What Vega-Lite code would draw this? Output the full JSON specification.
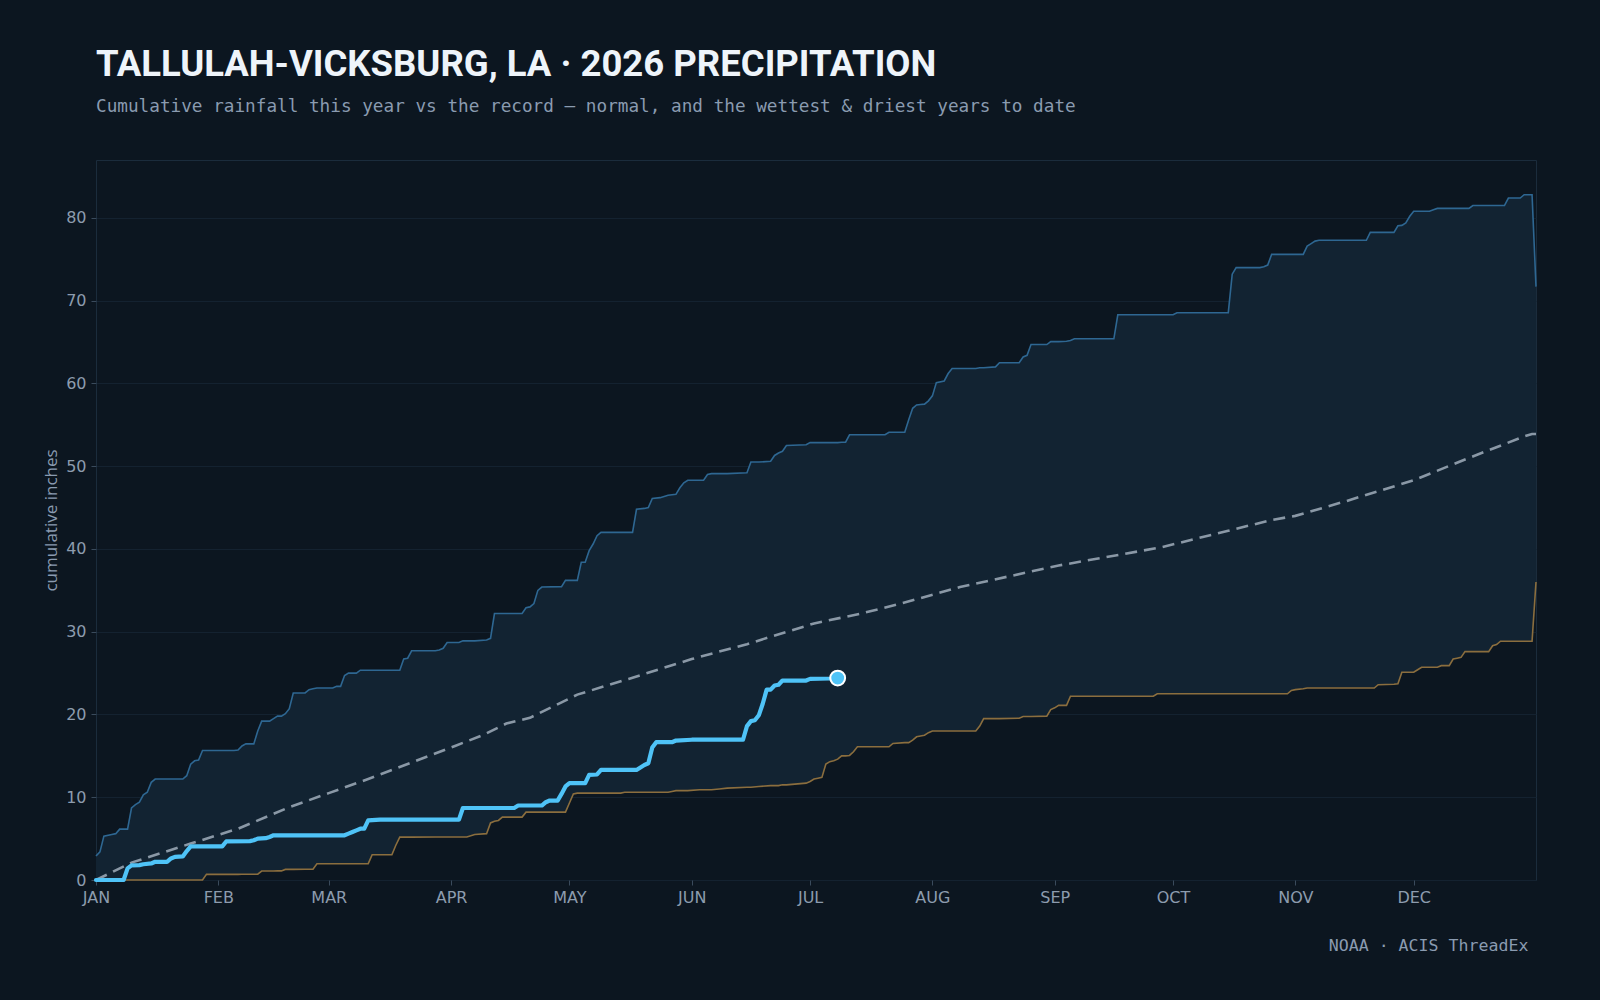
{
  "$schema": "https://vega.github.io/schema/vega-lite/v6.json",
  "width": 1440,
  "height": 720,
  "autosize": {"type": "none"},
  "padding": {"left": 96, "top": 160, "right": 64, "bottom": 120},
  "background": "#0c1620",
  "config": {
    "view": {"stroke": "#1b2c3c", "strokeWidth": 1, "fill": "#0c1620"},
    "axis": {
      "labelColor": "#8d9cae",
      "labelFont": "DejaVu Sans",
      "labelFontSize": 16,
      "tickColor": "#3a4b5c",
      "tickSize": 5,
      "domain": false
    }
  },
  "title": {
    "text": "TALLULAH-VICKSBURG, LA · 2026 PRECIPITATION",
    "subtitle": "Cumulative rainfall this year vs the record — normal, and the wettest & driest years to date",
    "anchor": "start",
    "frame": "group",
    "font": "Roboto",
    "fontSize": 36.5,
    "fontWeight": "bold",
    "color": "#eef4fa",
    "subtitleFont": "DejaVu Sans Mono",
    "subtitleFontSize": 17.7,
    "subtitleColor": "#8a9bb0",
    "subtitlePadding": 15,
    "offset": 44
  },
  "datasets": {
    "band": [
      {"doy":1,"wet":2.9,"dry":0},{"doy":2,"wet":3.4,"dry":0},{"doy":3,"wet":5.3,"dry":0},{"doy":5,"wet":5.5,"dry":0},{"doy":6,"wet":5.6,"dry":0},{"doy":7,"wet":6.15,"dry":0},{"doy":9,"wet":6.15,"dry":0},{"doy":10,"wet":8.7,"dry":0},{"doy":11,"wet":9.1,"dry":0},{"doy":12,"wet":9.4,"dry":0},{"doy":13,"wet":10.3,"dry":0},{"doy":14,"wet":10.6,"dry":0},{"doy":15,"wet":11.8,"dry":0},{"doy":16,"wet":12.2,"dry":0},{"doy":23,"wet":12.2,"dry":0},{"doy":24,"wet":12.6,"dry":0},{"doy":25,"wet":14.0,"dry":0},{"doy":26,"wet":14.4,"dry":0},{"doy":27,"wet":14.5,"dry":0},{"doy":28,"wet":15.65,"dry":0},{"doy":29,"wet":15.65,"dry":0.68},{"doy":36,"wet":15.65,"dry":0.68},{"doy":37,"wet":15.7,"dry":0.68},{"doy":38,"wet":16.2,"dry":0.69},{"doy":39,"wet":16.45,"dry":0.69},{"doy":41,"wet":16.45,"dry":0.7},{"doy":42,"wet":18.0,"dry":0.7},{"doy":43,"wet":19.2,"dry":1.08},{"doy":45,"wet":19.2,"dry":1.09},{"doy":46,"wet":19.5,"dry":1.09},{"doy":47,"wet":19.8,"dry":1.1},{"doy":48,"wet":19.8,"dry":1.1},{"doy":49,"wet":20.1,"dry":1.28},{"doy":50,"wet":20.7,"dry":1.28},{"doy":51,"wet":22.6,"dry":1.28},{"doy":54,"wet":22.6,"dry":1.29},{"doy":55,"wet":23.0,"dry":1.29},{"doy":56,"wet":23.1,"dry":1.3},{"doy":57,"wet":23.2,"dry":1.97},{"doy":61,"wet":23.2,"dry":1.97},{"doy":62,"wet":23.4,"dry":1.97},{"doy":63,"wet":23.4,"dry":1.97},{"doy":64,"wet":24.7,"dry":1.97},{"doy":65,"wet":25.0,"dry":1.97},{"doy":67,"wet":25.0,"dry":1.97},{"doy":68,"wet":25.35,"dry":1.97},{"doy":70,"wet":25.35,"dry":1.97},{"doy":71,"wet":25.35,"dry":3.05},{"doy":76,"wet":25.35,"dry":3.05},{"doy":77,"wet":25.35,"dry":4.2},{"doy":78,"wet":25.35,"dry":5.18},{"doy":79,"wet":26.7,"dry":5.18},{"doy":80,"wet":26.8,"dry":5.18},{"doy":81,"wet":27.7,"dry":5.18},{"doy":87,"wet":27.7,"dry":5.19},{"doy":88,"wet":27.8,"dry":5.19},{"doy":89,"wet":28.0,"dry":5.19},{"doy":90,"wet":28.7,"dry":5.19},{"doy":93,"wet":28.7,"dry":5.2},{"doy":94,"wet":28.9,"dry":5.2},{"doy":95,"wet":28.9,"dry":5.2},{"doy":97,"wet":28.9,"dry":5.5},{"doy":100,"wet":29.0,"dry":5.6},{"doy":101,"wet":29.2,"dry":6.9},{"doy":102,"wet":32.2,"dry":7.1},{"doy":103,"wet":32.2,"dry":7.2},{"doy":104,"wet":32.2,"dry":7.6},{"doy":109,"wet":32.2,"dry":7.6},{"doy":110,"wet":32.9,"dry":8.2},{"doy":111,"wet":33.0,"dry":8.2},{"doy":112,"wet":33.4,"dry":8.2},{"doy":113,"wet":35.0,"dry":8.2},{"doy":114,"wet":35.4,"dry":8.2},{"doy":119,"wet":35.45,"dry":8.2},{"doy":120,"wet":36.2,"dry":8.2},{"doy":121,"wet":36.2,"dry":9.3},{"doy":122,"wet":36.2,"dry":10.4},{"doy":123,"wet":36.2,"dry":10.5},{"doy":124,"wet":38.4,"dry":10.5},{"doy":125,"wet":38.4,"dry":10.5},{"doy":126,"wet":39.8,"dry":10.5},{"doy":127,"wet":40.6,"dry":10.5},{"doy":128,"wet":41.6,"dry":10.5},{"doy":129,"wet":42.0,"dry":10.5},{"doy":134,"wet":42.0,"dry":10.5},{"doy":135,"wet":42.0,"dry":10.6},{"doy":137,"wet":42.0,"dry":10.6},{"doy":138,"wet":44.8,"dry":10.6},{"doy":140,"wet":44.9,"dry":10.6},{"doy":141,"wet":45.0,"dry":10.6},{"doy":142,"wet":46.1,"dry":10.6},{"doy":144,"wet":46.2,"dry":10.6},{"doy":146,"wet":46.5,"dry":10.6},{"doy":147,"wet":46.55,"dry":10.7},{"doy":148,"wet":46.6,"dry":10.8},{"doy":149,"wet":47.4,"dry":10.8},{"doy":150,"wet":48.0,"dry":10.8},{"doy":151,"wet":48.3,"dry":10.8},{"doy":154,"wet":48.3,"dry":10.9},{"doy":155,"wet":48.3,"dry":10.9},{"doy":156,"wet":49.0,"dry":10.9},{"doy":157,"wet":49.1,"dry":10.9},{"doy":159,"wet":49.1,"dry":11.0},{"doy":161,"wet":49.1,"dry":11.1},{"doy":166,"wet":49.2,"dry":11.2},{"doy":167,"wet":50.5,"dry":11.2},{"doy":169,"wet":50.5,"dry":11.3},{"doy":172,"wet":50.6,"dry":11.4},{"doy":173,"wet":51.3,"dry":11.4},{"doy":174,"wet":51.6,"dry":11.4},{"doy":175,"wet":51.8,"dry":11.5},{"doy":176,"wet":52.5,"dry":11.5},{"doy":181,"wet":52.6,"dry":11.7},{"doy":182,"wet":52.85,"dry":11.9},{"doy":183,"wet":52.85,"dry":12.2},{"doy":184,"wet":52.85,"dry":12.3},{"doy":185,"wet":52.85,"dry":12.4},{"doy":186,"wet":52.85,"dry":14.0},{"doy":187,"wet":52.85,"dry":14.3},{"doy":188,"wet":52.85,"dry":14.4},{"doy":189,"wet":52.85,"dry":14.6},{"doy":190,"wet":52.9,"dry":15.0},{"doy":191,"wet":52.9,"dry":15.0},{"doy":192,"wet":53.8,"dry":15.05},{"doy":193,"wet":53.8,"dry":15.5},{"doy":194,"wet":53.8,"dry":16.1},{"doy":201,"wet":53.8,"dry":16.1},{"doy":202,"wet":54.1,"dry":16.1},{"doy":203,"wet":54.1,"dry":16.5},{"doy":206,"wet":54.1,"dry":16.6},{"doy":207,"wet":55.6,"dry":16.6},{"doy":208,"wet":57.0,"dry":16.9},{"doy":209,"wet":57.4,"dry":17.3},{"doy":210,"wet":57.45,"dry":17.4},{"doy":211,"wet":57.5,"dry":17.5},{"doy":212,"wet":57.9,"dry":17.8},{"doy":213,"wet":58.5,"dry":18.0},{"doy":214,"wet":60.1,"dry":18.0},{"doy":216,"wet":60.3,"dry":18.0},{"doy":217,"wet":61.2,"dry":18.0},{"doy":218,"wet":61.8,"dry":18.0},{"doy":224,"wet":61.8,"dry":18.0},{"doy":225,"wet":61.9,"dry":18.6},{"doy":226,"wet":61.9,"dry":19.5},{"doy":229,"wet":62.0,"dry":19.5},{"doy":230,"wet":62.5,"dry":19.5},{"doy":235,"wet":62.5,"dry":19.55},{"doy":236,"wet":63.2,"dry":19.75},{"doy":237,"wet":63.4,"dry":19.75},{"doy":238,"wet":64.7,"dry":19.75},{"doy":242,"wet":64.7,"dry":19.8},{"doy":243,"wet":65.05,"dry":20.6},{"doy":244,"wet":65.05,"dry":20.8},{"doy":245,"wet":65.05,"dry":21.1},{"doy":247,"wet":65.1,"dry":21.1},{"doy":248,"wet":65.2,"dry":22.2},{"doy":249,"wet":65.4,"dry":22.2},{"doy":259,"wet":65.4,"dry":22.2},{"doy":260,"wet":68.3,"dry":22.2},{"doy":269,"wet":68.3,"dry":22.2},{"doy":270,"wet":68.3,"dry":22.5},{"doy":274,"wet":68.3,"dry":22.5},{"doy":275,"wet":68.55,"dry":22.5},{"doy":288,"wet":68.55,"dry":22.5},{"doy":289,"wet":73.2,"dry":22.5},{"doy":290,"wet":74.0,"dry":22.5},{"doy":296,"wet":74.0,"dry":22.5},{"doy":297,"wet":74.1,"dry":22.5},{"doy":298,"wet":74.3,"dry":22.5},{"doy":299,"wet":75.6,"dry":22.5},{"doy":303,"wet":75.6,"dry":22.5},{"doy":304,"wet":75.6,"dry":22.9},{"doy":305,"wet":75.6,"dry":23.0},{"doy":307,"wet":75.6,"dry":23.1},{"doy":308,"wet":76.6,"dry":23.2},{"doy":309,"wet":76.9,"dry":23.2},{"doy":310,"wet":77.2,"dry":23.2},{"doy":311,"wet":77.3,"dry":23.2},{"doy":323,"wet":77.3,"dry":23.2},{"doy":324,"wet":78.25,"dry":23.2},{"doy":325,"wet":78.25,"dry":23.2},{"doy":326,"wet":78.25,"dry":23.6},{"doy":330,"wet":78.25,"dry":23.65},{"doy":331,"wet":79.05,"dry":23.7},{"doy":332,"wet":79.1,"dry":25.1},{"doy":333,"wet":79.4,"dry":25.1},{"doy":334,"wet":80.2,"dry":25.1},{"doy":335,"wet":80.8,"dry":25.1},{"doy":336,"wet":80.8,"dry":25.4},{"doy":337,"wet":80.8,"dry":25.7},{"doy":339,"wet":80.8,"dry":25.7},{"doy":340,"wet":81.0,"dry":25.7},{"doy":341,"wet":81.15,"dry":25.7},{"doy":342,"wet":81.15,"dry":25.9},{"doy":344,"wet":81.15,"dry":25.9},{"doy":345,"wet":81.15,"dry":26.7},{"doy":346,"wet":81.15,"dry":26.8},{"doy":347,"wet":81.15,"dry":26.9},{"doy":348,"wet":81.15,"dry":27.6},{"doy":349,"wet":81.15,"dry":27.6},{"doy":350,"wet":81.5,"dry":27.6},{"doy":354,"wet":81.5,"dry":27.6},{"doy":355,"wet":81.5,"dry":28.3},{"doy":356,"wet":81.5,"dry":28.45},{"doy":357,"wet":81.5,"dry":28.85},{"doy":358,"wet":81.5,"dry":28.85},{"doy":359,"wet":82.4,"dry":28.85},{"doy":362,"wet":82.4,"dry":28.85},{"doy":363,"wet":82.8,"dry":28.85},{"doy":365,"wet":82.8,"dry":28.85},{"doy":366,"wet":71.7,"dry":36.0}
    ],
    "normal": [
      {"doy":1,"inches":0},{"doy":10,"inches":2.1},{"doy":25,"inches":4.4},{"doy":37,"inches":6.2},{"doy":50,"inches":8.8},{"doy":60,"inches":10.5},{"doy":70,"inches":12.2},{"doy":81,"inches":14.2},{"doy":92,"inches":16.2},{"doy":99,"inches":17.5},{"doy":105,"inches":18.9},{"doy":111,"inches":19.6},{"doy":123,"inches":22.4},{"doy":136,"inches":24.3},{"doy":152,"inches":26.7},{"doy":166,"inches":28.5},{"doy":183,"inches":31.0},{"doy":195,"inches":32.2},{"doy":205,"inches":33.4},{"doy":220,"inches":35.4},{"doy":245,"inches":38.0},{"doy":271,"inches":40.2},{"doy":288,"inches":42.2},{"doy":299,"inches":43.5},{"doy":305,"inches":44.0},{"doy":318,"inches":45.8},{"doy":335,"inches":48.3},{"doy":349,"inches":51.0},{"doy":363,"inches":53.6},{"doy":365,"inches":53.9},{"doy":366,"inches":53.9}
    ],
    "y2026": [
      {"doy":1,"inches":0},{"doy":8,"inches":0},{"doy":9,"inches":1.4},{"doy":10,"inches":1.76},{"doy":12,"inches":1.8},{"doy":13,"inches":1.9},{"doy":15,"inches":2.0},{"doy":16,"inches":2.2},{"doy":19,"inches":2.2},{"doy":20,"inches":2.6},{"doy":21,"inches":2.8},{"doy":23,"inches":2.85},{"doy":24,"inches":3.5},{"doy":25,"inches":4.06},{"doy":33,"inches":4.06},{"doy":34,"inches":4.66},{"doy":40,"inches":4.7},{"doy":41,"inches":4.8},{"doy":42,"inches":5.0},{"doy":44,"inches":5.05},{"doy":45,"inches":5.2},{"doy":46,"inches":5.4},{"doy":64,"inches":5.4},{"doy":65,"inches":5.6},{"doy":66,"inches":5.8},{"doy":67,"inches":6.0},{"doy":68,"inches":6.2},{"doy":69,"inches":6.2},{"doy":70,"inches":7.2},{"doy":73,"inches":7.3},{"doy":93,"inches":7.3},{"doy":94,"inches":8.7},{"doy":107,"inches":8.7},{"doy":108,"inches":9.0},{"doy":114,"inches":9.0},{"doy":115,"inches":9.4},{"doy":116,"inches":9.6},{"doy":118,"inches":9.6},{"doy":119,"inches":10.4},{"doy":120,"inches":11.3},{"doy":121,"inches":11.7},{"doy":125,"inches":11.7},{"doy":126,"inches":12.7},{"doy":128,"inches":12.75},{"doy":129,"inches":13.3},{"doy":138,"inches":13.3},{"doy":139,"inches":13.6},{"doy":140,"inches":13.9},{"doy":141,"inches":14.1},{"doy":142,"inches":16.0},{"doy":143,"inches":16.65},{"doy":147,"inches":16.65},{"doy":148,"inches":16.85},{"doy":152,"inches":16.95},{"doy":165,"inches":16.95},{"doy":166,"inches":18.6},{"doy":167,"inches":19.2},{"doy":168,"inches":19.3},{"doy":169,"inches":19.9},{"doy":170,"inches":21.3},{"doy":171,"inches":23.0},{"doy":172,"inches":23.0},{"doy":173,"inches":23.5},{"doy":174,"inches":23.6},{"doy":175,"inches":24.1},{"doy":181,"inches":24.1},{"doy":182,"inches":24.3},{"doy":187,"inches":24.35},{"doy":189,"inches":24.4}
    ]
  },
  "layer": [
    {
      "data": {"name": "band"},
      "mark": {"type": "area", "color": "#122332", "opacity": 1},
      "encoding": {
        "x": {
          "field": "doy", "type": "quantitative",
          "scale": {"domain": [1, 366], "nice": false, "zero": false},
          "axis": {
            "values": [1, 32, 60, 91, 121, 152, 182, 213, 244, 274, 305, 335],
            "labelExpr": "['JAN','FEB','MAR','APR','MAY','JUN','JUL','AUG','SEP','OCT','NOV','DEC'][indexof([1,32,60,91,121,152,182,213,244,274,305,335], datum.value)]",
            "grid": false,
            "labelFlush": false,
            "labelOverlap": false,
            "labelPadding": 4,
            "title": "NOAA · ACIS ThreadEx",
            "titleFont": "DejaVu Sans Mono",
            "titleFontSize": 16.6,
            "titleFontWeight": "normal",
            "titleColor": "#8a9bb0",
            "titleAlign": "right",
            "titleBaseline": "alphabetic",
            "titleX": 1432,
            "titleY": 70
          }
        },
        "y": {
          "field": "wet", "type": "quantitative",
          "title": "cumulative inches",
          "scale": {"domain": [0, 87], "nice": false},
          "axis": {
            "values": [0, 10, 20, 30, 40, 50, 60, 70, 80],
            "grid": true,
            "gridColor": "#142230",
            "gridWidth": 1,
            "labelPadding": 5,
            "titleFont": "Open Sans",
            "titleFontSize": 17,
            "titleFontWeight": "normal",
            "titleColor": "#8a9bb0",
            "titleAngle": -90,
            "titleAlign": "center",
            "titleBaseline": "middle",
            "titleX": -45,
            "titleY": 360
          }
        },
        "y2": {"field": "dry"}
      }
    },
    {
      "data": {"name": "band"},
      "mark": {"type": "line", "color": "#2e6792", "strokeWidth": 1.6},
      "encoding": {
        "x": {"field": "doy", "type": "quantitative", "title": "NOAA · ACIS ThreadEx"},
        "y": {"field": "wet", "type": "quantitative", "title": "cumulative inches"}
      }
    },
    {
      "data": {"name": "band"},
      "mark": {"type": "line", "color": "#8b6e3e", "strokeWidth": 1.6},
      "encoding": {
        "x": {"field": "doy", "type": "quantitative", "title": "NOAA · ACIS ThreadEx"},
        "y": {"field": "dry", "type": "quantitative", "title": "cumulative inches"}
      }
    },
    {
      "data": {"name": "normal"},
      "mark": {"type": "line", "color": "#8a98a6", "strokeWidth": 2.6, "strokeDash": [12, 7]},
      "encoding": {
        "x": {"field": "doy", "type": "quantitative", "title": "NOAA · ACIS ThreadEx"},
        "y": {"field": "inches", "type": "quantitative", "title": "cumulative inches"}
      }
    },
    {
      "data": {"name": "y2026"},
      "mark": {"type": "line", "color": "#4fc3f7", "strokeWidth": 4.2, "strokeJoin": "round", "strokeCap": "round"},
      "encoding": {
        "x": {"field": "doy", "type": "quantitative", "title": "NOAA · ACIS ThreadEx"},
        "y": {"field": "inches", "type": "quantitative", "title": "cumulative inches"}
      }
    },
    {
      "data": {"name": "y2026"},
      "transform": [
        {"joinaggregate": [{"op": "max", "field": "doy", "as": "lastDoy"}]},
        {"filter": "datum.doy == datum.lastDoy"}
      ],
      "mark": {"type": "point", "filled": true, "fill": "#4fc3f7", "stroke": "#ffffff", "strokeWidth": 2, "size": 220, "opacity": 1},
      "encoding": {
        "x": {"field": "doy", "type": "quantitative", "title": "NOAA · ACIS ThreadEx"},
        "y": {"field": "inches", "type": "quantitative", "title": "cumulative inches"}
      }
    }
  ]
}
